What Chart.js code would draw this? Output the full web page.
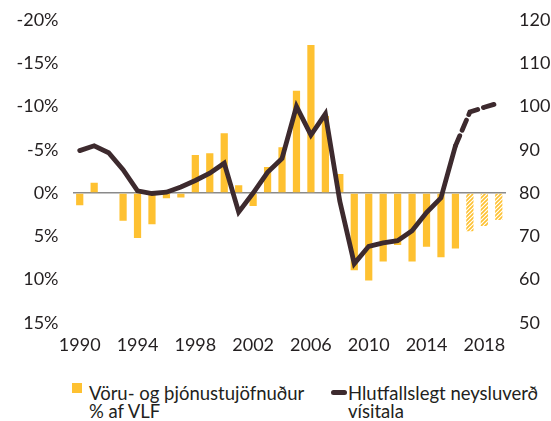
<!DOCTYPE html>
<html>
<head>
    <title>Vöruskiptajöfnuður og raungengi</title>
    <script src="https://cdn.jsdelivr.net/npm/chart.js"></script>
    <style>
        body { margin: 0; background: #fff; font-family: 'Lato', sans-serif; color: #231f20; }
        .wrap { position: relative; width: 551px; height: 421px; overflow: hidden; }
        #chart { position: absolute; left: 0; top: -5px; }
        .legend-item { position: absolute; font-size: 18.5px; line-height: 18px; }
        .swatch-bar { position: absolute; width: 10px; height: 10px; background: #fec131; }
        .swatch-line { position: absolute; width: 16px; height: 5px; border-radius: 3px; background: #3d2a2e; }
    </style>
</head>
<body>
<div class="wrap">
    <canvas id="chart" width="551" height="370"></canvas>
    <div class="swatch-bar" style="left:72px; top:383px;"></div>
    <div class="legend-item" style="left:89px; top:384px;">Vöru- og þjónustujöfnuður<br>% af VLF</div>
    <div class="swatch-line" style="left:331px; top:390px;"></div>
    <div class="legend-item" style="left:348px; top:384px;">Hlutfallslegt neysluverð<br>vísitala</div>
</div>

<script>
    // ===== DATA =====
    const years = [1990, 1991, 1992, 1993, 1994, 1995, 1996, 1997, 1998, 1999,
                   2000, 2001, 2002, 2003, 2004, 2005, 2006, 2007, 2008, 2009,
                   2010, 2011, 2012, 2013, 2014, 2015, 2016, 2017, 2018, 2019];
    // trade balance, % of GDP (axis reversed: deficit drawn upwards)
    const balance = [1.4, -1.2, 0, 3.2, 5.2, 3.6, 0.6, 0.5, -4.4, -4.6,
                     -6.9, -0.9, 1.5, -3.0, -5.3, -11.8, -17.1, -8.9, -2.2, 8.9,
                     10.1, 7.9, 6.0, 7.9, 6.2, 7.4, 6.4, 4.4, 3.8, 3.1];
    // relative consumer price index
    const priceIndex = [89.8, 90.9, 89.3, 85.4, 80.5, 79.9, 80.2, 81.4, 82.9, 84.6,
                        86.9, 75.6, 80.0, 84.8, 88.0, 100.0, 93.4, 98.3, 78.1, 63.7,
                        67.7, 68.5, 69.0, 71.3, 75.5, 78.9, 90.9, 98.7, 99.8, 100.8];
    const forecastFrom = 2016; // dashed line / hatched bars after this year
    const leftTicks = [-20, -15, -10, -5, 0, 5, 10, 15];
    const rightTicks = [50, 60, 70, 80, 90, 100, 110, 120];

    const YELLOW = '#fec131';
    const DARK = '#3d2a2e';
    const TEXT = '#231f20';

    // hatched fill for forecast bars
    function hatch() {
        const c = document.createElement('canvas');
        c.width = 4; c.height = 4;
        const g = c.getContext('2d');
        g.strokeStyle = YELLOW;
        g.lineWidth = 1.6;
        g.beginPath();
        g.moveTo(-1, 5); g.lineTo(5, -1);
        g.moveTo(-1, 1); g.lineTo(1, -1);
        g.moveTo(3, 5); g.lineTo(5, 3);
        g.stroke();
        return g.createPattern(c, 'repeat');
    }
    const hatchFill = hatch();
    const barColors = years.map(y => y > forecastFrom ? hatchFill : YELLOW);
    const fcIndex = years.indexOf(forecastFrom);

    const tickFont = { family: 'Lato', size: 18 };

    new Chart(document.getElementById('chart'), {
        data: {
            labels: years,
            datasets: [{
                type: 'line',
                label: 'Hlutfallslegt neysluverð vísitala',
                data: priceIndex,
                yAxisID: 'yR',
                borderColor: DARK,
                borderWidth: 4.8,
                pointRadius: 0,
                tension: 0,
                borderCapStyle: 'round',
                borderJoinStyle: 'miter',
                order: 0,
                segment: {
                    borderDash: ctx => ctx.p0DataIndex >= fcIndex ? [11, 6] : undefined
                }
            }, {
                type: 'bar',
                label: 'Vöru- og þjónustujöfnuður % af VLF',
                data: balance,
                yAxisID: 'yL',
                backgroundColor: barColors,
                barPercentage: 0.5,
                categoryPercentage: 1,
                order: 1
            }]
        },
        options: {
            responsive: false,
            animation: false,
            layout: { padding: { top: 15, bottom: 0, left: 0, right: 0 } },
            plugins: { legend: { display: false }, tooltip: { enabled: false } },
            scales: {
                x: {
                    grid: { display: false, drawTicks: false },
                    border: { display: false },
                    ticks: {
                        autoSkip: false, maxRotation: 0, padding: 11.5,
                        color: TEXT, font: tickFont,
                        callback: (v, i) => (years[i] - 1990) % 4 === 0 ? years[i] : ''
                    },
                    afterFit: s => { s.height = 42; }
                },
                yL: {
                    position: 'left',
                    reverse: true,
                    min: -20, max: 15,
                    afterBuildTicks: s => { s.ticks = leftTicks.map(v => ({ value: v })); },
                    grid: {
                        drawTicks: false,
                        color: c => c.tick && c.tick.value === 0 ? '#8a8a8a' : 'rgba(0,0,0,0)',
                        lineWidth: 1.5
                    },
                    border: { display: false },
                    ticks: { padding: 14, color: TEXT, font: tickFont, callback: v => v + '%' },
                    afterFit: s => { s.width = 72.5; }
                },
                yR: {
                    position: 'right',
                    min: 50, max: 120,
                    afterBuildTicks: s => { s.ticks = rightTicks.map(v => ({ value: v })); },
                    grid: { display: false, drawTicks: false },
                    border: { display: false },
                    ticks: { padding: 13, color: TEXT, font: tickFont },
                    afterFit: s => { s.width = 45; }
                }
            }
        }
    });
</script>
</body>
</html>
